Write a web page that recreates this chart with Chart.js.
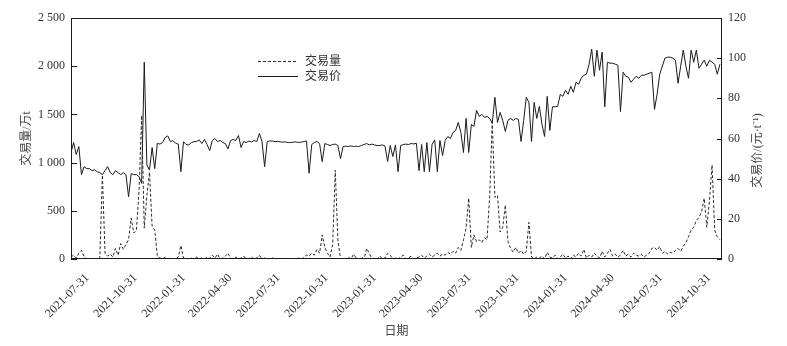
<!DOCTYPE html>
<html>
<head>
<meta charset="utf-8">
<script src="https://cdn.jsdelivr.net/npm/chart.js@4.4.0/dist/chart.umd.min.js"></script>
<style>
  html, body { margin: 0; padding: 0; background: #fff; }
</style>
</head>
<body>
<canvas id="chart" width="787" height="346"></canvas>
<script>
// sampling: one point every 5 days along the axis
const startDate = '2021-06-30';
const stepDays = 5;
const endDays = 1244;

const tickDates = ['2021-07-31', '2021-10-31', '2022-01-31', '2022-04-30', '2022-07-31',
  '2022-10-31', '2023-01-31', '2023-04-30', '2023-07-31', '2023-10-31',
  '2024-01-31', '2024-04-30', '2024-07-31', '2024-10-31'];

// 交易量 / 万t
const volume = [
  20, 40, 10, 60, 90, 20, 0, 0, 5, 0,
  0, 0, 870, 60, 30, 50, 20, 110, 40, 160,
  100, 150, 200, 425, 270, 300, 700, 1490, 320, 660,
  900, 340, 300, 30, 10, 0, 20, 0, 10, 0,
  0, 20, 140, 10, 0, 0, 10, 0, 20, 0,
  10, 0, 20, 5, 40, 10, 50, 0, 10, 30,
  60, 10, 0, 20, 0, 10, 30, 0, 5, 20,
  0, 10, 40, 0, 10, 0, 0, 10, 0, 5,
  0, 0, 10, 0, 5, 0, 0, 10, 0, 20,
  40, 30, 60, 40, 100, 60, 250, 120, 60, 20,
  150, 920, 200, 0, 10, 0, 20, 0, 50, 10,
  0, 20, 0, 110, 60, 0, 10, 0, 30, 0,
  10, 60, 40, 0, 10, 0, 20, 40, 0, 10,
  30, 0, 10, 20, 40, 10, 30, 50, 20, 40,
  60, 30, 50, 40, 70, 50, 80, 60, 120, 90,
  200, 320, 630, 120, 250, 180, 200, 170, 220, 200,
  650, 1420, 640, 660, 280, 330, 560, 180, 110, 70,
  120, 60, 90, 50, 80, 380, 20, 0, 20, 10,
  30, 0, 70, 20, 10, 40, 0, 20, 50, 10,
  30, 0, 40, 20, 60, 30, 100, 10, 40, 20,
  60, 30, 10, 80, 20, 60, 100, 30, 50, 20,
  40, 90, 30, 50, 20, 60, 40, 30, 50, 20,
  40, 60, 110, 120, 90, 130, 60, 80, 50, 70,
  60, 90, 110, 80, 130, 170, 230, 300, 330, 400,
  430, 490, 630, 330, 600, 975, 300, 230, 200
];

// 交易价 / (元·t⁻¹)
const price = [
  53, 58, 52, 56, 42, 46, 45, 45, 44, 44.5,
  43.5, 43, 42, 44, 46, 43, 42, 44, 43, 42,
  43, 42, 31, 42.5, 42, 42, 41, 37.7, 98, 46.8,
  44.3, 55.5, 45, 57.6, 57.2, 58, 60.5, 61.3, 58.4, 59,
  57.6, 57.2, 43.5, 58.4, 57, 56.8, 58, 58.4, 58.5, 59.3,
  57.5, 59.5, 57, 54, 59, 60, 58.5, 59, 58, 57.5,
  54.8, 59, 59.5, 59, 61.5, 55.5, 58.5, 58, 58.7, 58.3,
  59, 58.5, 62.5, 58.5, 46, 58.5, 58.8, 58.7, 58.4, 58.6,
  58.3, 58.2, 58.3, 58, 58, 58.2, 58.3, 58, 58.2, 58.5,
  58.8, 42.7, 57, 58, 58.5, 57.5, 48.5, 57.5, 57, 56.5,
  57, 57.2, 56.5, 50, 56, 56.2, 56, 56.3, 56, 56.2,
  56, 56.5, 57, 57.5, 56.8, 57.2, 56.8, 56.5, 56.5, 56.8,
  56.3, 48.5, 56.5, 51, 56.8, 43.5, 56.5, 57, 57.2, 57,
  57.5, 57.3, 57.6, 44, 57, 43.5, 58, 43.5, 57, 59.3,
  43.5, 59, 51.5, 59, 61, 60, 63, 64, 68, 63,
  53, 70, 53, 67, 66, 74, 71, 72, 70.5, 71,
  70, 67.7, 80.5, 68, 73, 69, 63.5, 69, 70, 69,
  70, 69.5, 58.5, 69, 80.5, 78, 58.5, 78, 70, 76,
  67, 61, 81, 64, 75.8, 75.8, 76, 82, 81, 84,
  82, 86, 83, 88, 87, 90, 91.5, 92, 97, 104.5,
  91, 104, 94, 103, 75.8, 98, 97.5, 97.5, 97, 96.5,
  73.4, 93, 91, 90.5, 88, 89.5, 91, 90, 91.5, 91.5,
  92, 92.5, 93, 74.5, 82, 92, 96, 100, 100.5, 100.5,
  100, 99, 87.5, 96, 104, 96, 90, 104, 98, 104,
  95, 97, 99, 96, 99, 98, 97, 92, 97
];

const serif = '"Liberation Serif", "Noto Sans CJK SC", serif';
const ink = '#1a1a1a';
const textColor = '#333';

const dayOf = s => (Date.parse(s) - Date.parse(startDate)) / 86400000;
const withSpace = v => String(v).replace(/\B(?=(\d{3})+(?!\d))/g, ' ');

// frame, inward ticks, right title and the in-plot legend
const framePlugin = {
  id: 'frame',
  afterDraw(chart) {
    const { ctx, chartArea: a, scales } = chart;
    ctx.save();
    ctx.strokeStyle = ink;
    ctx.lineWidth = 1;
    ctx.setLineDash([]);
    ctx.strokeRect(a.left + 0.5, a.top + 0.5, a.right - a.left - 1, a.bottom - a.top - 1);

    ctx.beginPath();
    scales.y.ticks.forEach(t => {
      const y = Math.round(scales.y.getPixelForValue(t.value)) + 0.5;
      ctx.moveTo(a.left, y);
      ctx.lineTo(a.left + 6, y);
    });
    scales.y1.ticks.forEach(t => {
      const y = Math.round(scales.y1.getPixelForValue(t.value)) + 0.5;
      ctx.moveTo(a.right, y);
      ctx.lineTo(a.right - 5, y);
    });
    ctx.stroke();

    // right axis title, reads bottom to top like the left one
    ctx.fillStyle = '#444';
    ctx.font = '12px ' + serif;
    ctx.textAlign = 'center';
    ctx.textBaseline = 'middle';
    ctx.save();
    ctx.translate(758, (a.top + a.bottom) / 2 + 12);
    ctx.rotate(-Math.PI / 2);
    ctx.fillText('交易价/(元·t⁻¹)', 0, 0);
    ctx.restore();

    // legend
    ctx.textAlign = 'left';
    chart.data.datasets.forEach((ds, i) => {
      const y = Math.round(a.top + 43 + i * 15) + 0.5;
      ctx.beginPath();
      ctx.setLineDash(ds.borderDash || []);
      ctx.strokeStyle = ds.borderColor;
      ctx.moveTo(a.left + 187, y);
      ctx.lineTo(a.left + 227, y);
      ctx.stroke();
      ctx.fillStyle = textColor;
      ctx.fillText(ds.label, a.left + 234, y);
    });
    ctx.restore();
  }
};

Chart.defaults.font.family = serif;
Chart.defaults.font.size = 12;
Chart.defaults.color = textColor;

new Chart(document.getElementById('chart'), {
  type: 'line',
  data: {
    datasets: [
      {
        label: '交易量',
        data: volume.map((v, i) => ({ x: i * stepDays, y: v })),
        yAxisID: 'y',
        borderColor: '#2a2a2a',
        borderWidth: 1,
        borderDash: [3, 2],
        pointRadius: 0,
        tension: 0
      },
      {
        label: '交易价',
        data: price.map((v, i) => ({ x: i * stepDays, y: v })),
        yAxisID: 'y1',
        borderColor: ink,
        borderWidth: 1,
        pointRadius: 0,
        tension: 0
      }
    ]
  },
  plugins: [framePlugin],
  options: {
    responsive: false,
    animation: false,
    devicePixelRatio: 1,
    layout: { padding: { top: 18, left: 0, right: 0, bottom: 0 } },
    plugins: { legend: { display: false }, tooltip: { enabled: false } },
    scales: {
      x: {
        type: 'linear',
        min: 0,
        max: endDays,
        afterBuildTicks: s => { s.ticks = tickDates.map(d => ({ value: dayOf(d) })); },
        afterFit: s => { s.height = 87; },
        grid: { display: false, drawTicks: false },
        border: { display: false },
        ticks: {
          autoSkip: false,
          minRotation: 45,
          maxRotation: 45,
          padding: 12,
          color: textColor,
          callback: (v, i) => tickDates[i]
        },
        title: { display: true, text: '日期', color: '#444', padding: { top: 2, bottom: 7 } }
      },
      y: {
        position: 'left',
        min: 0,
        max: 2500,
        afterFit: s => { s.width = 71; },
        grid: { display: false, drawTicks: false },
        border: { display: false },
        ticks: { stepSize: 500, padding: 6, color: textColor, callback: v => withSpace(v) },
        title: { display: true, text: '交易量/万t', color: '#444', padding: { top: 20, bottom: 0 } }
      },
      y1: {
        position: 'right',
        min: 0,
        max: 120,
        afterFit: s => { s.width = 65; },
        grid: { display: false, drawTicks: false },
        border: { display: false },
        ticks: { stepSize: 20, padding: 6, color: textColor }
      }
    }
  }
});
</script>
</body>
</html>
